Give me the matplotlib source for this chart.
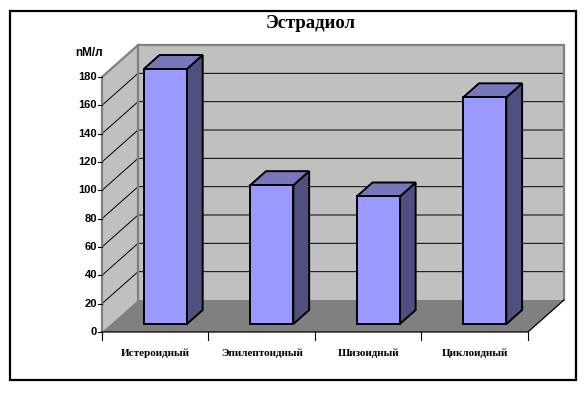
import matplotlib
matplotlib.use('Agg')
import matplotlib.pyplot as plt
from matplotlib.patches import Polygon, Rectangle

categories = ['Истероидный', 'Эпилептоидный', 'Шизоидный', 'Циклоидный']
values = [180, 98, 90, 160]
yticks = [0, 20, 40, 60, 80, 100, 120, 140, 160, 180]
title = 'Эстрадиол'
unit = 'nM/л'

W, H = 588, 393

# fake 3d: depth offset in data units
dx = 36 / 106.25
dy = 32 / 1.417
ymax = 180
bar_w = 0.405
bar_c = 0.51
front, back = 0.25, 0.6875


def pt(x, v, d):
    return (x + d * dx, v + d * dy)


fig = plt.figure(figsize=(W / 100, H / 100), dpi=100, facecolor='white')
ax = fig.add_axes([102 / W, 1 - 332 / H, (564 - 102) / W, (332 - 45) / H])
ax.set_xlim(0, len(categories) + dx)
ax.set_ylim(0, ymax + dy)
ax.axis('off')

n = len(categories)

# walls and floor
for t in yticks[1:-1]:
    ax.plot(*zip(pt(0, t, 0), pt(0, t, 1), pt(n, t, 1)), color='black', lw=0.7, zorder=2)
ax.add_patch(Polygon([pt(0, 0, 1), pt(n, 0, 1), pt(n, ymax, 1), pt(0, ymax, 1)],
                     fc='#c0c0c0', ec='none', zorder=1, clip_on=False))
ax.add_patch(Polygon([pt(0, 0, 0), pt(0, 0, 1), pt(0, ymax, 1), pt(0, ymax, 0)],
                     fc='#c0c0c0', ec='none', zorder=1, clip_on=False))
ax.plot(*zip(pt(0, 0, 1), pt(0, ymax, 1), pt(n, ymax, 1), pt(n, 0, 1)), color='#808080', lw=1.6,
        zorder=3, clip_on=False, solid_joinstyle='miter')
ax.plot(*zip(pt(0, 0, 0), pt(0, ymax, 0), pt(0, ymax, 1)), color='#808080', lw=1.6,
        zorder=3, clip_on=False, solid_joinstyle='miter')
ax.add_patch(Polygon([pt(0, 0, 0), pt(n, 0, 0), pt(n, 0, 1), pt(0, 0, 1)],
                     fc='#808080', ec='none', zorder=3, clip_on=False))
ax.plot(*zip(pt(0, 0, 0), pt(n, 0, 0), pt(n, 0, 1)), color='black', lw=0.9, zorder=4,
        clip_on=False)

# bars
for i, v in enumerate(values):
    x0 = i + bar_c - bar_w / 2
    x1 = i + bar_c + bar_w / 2
    kw = dict(ec='black', lw=1.4, joinstyle='miter', zorder=5)
    ax.add_patch(Polygon([pt(x1, 0, front), pt(x1, 0, back), pt(x1, v, back), pt(x1, v, front)],
                         fc='#4f4f80', **kw))
    ax.add_patch(Polygon([pt(x0, v, front), pt(x1, v, front), pt(x1, v, back), pt(x0, v, back)],
                         fc='#7777bb', **kw))
    ax.add_patch(Polygon([pt(x0, 0, front), pt(x1, 0, front), pt(x1, v, front), pt(x0, v, front)],
                         fc='#9999ff', **kw))

# axis ticks and labels
for t in yticks:
    ax.plot([-0.04, 0], [t, t], color='black', lw=0.8, clip_on=False, zorder=4)
    ax.text(-0.047, t, str(t), ha='right', va='center', fontsize=8, fontweight='bold',
            family='Liberation Sans')
for i in range(n + 1):
    ax.plot([i, i], [0, -5.5], color='black', lw=0.8, clip_on=False, zorder=4)
for i, c in enumerate(categories):
    ax.text(i + 0.5, -15, c, ha='center', va='center', fontsize=8, fontweight='bold',
            family='Liberation Serif')

fig.text(89 / W, 1 - 53 / H, unit, ha='center', va='center', fontsize=8.5, fontweight='bold',
         family='Liberation Sans')
fig.text(311 / W, 1 - 24 / H, title, ha='center', va='center', fontsize=13.5, fontweight='bold',
         family='Liberation Serif')

fig.add_artist(Rectangle((10 / W, 1 - 380 / H), 566 / W, 369 / H, transform=fig.transFigure,
                         fc='none', ec='black', lw=1.6))

fig.savefig('out.png', dpi=100)
